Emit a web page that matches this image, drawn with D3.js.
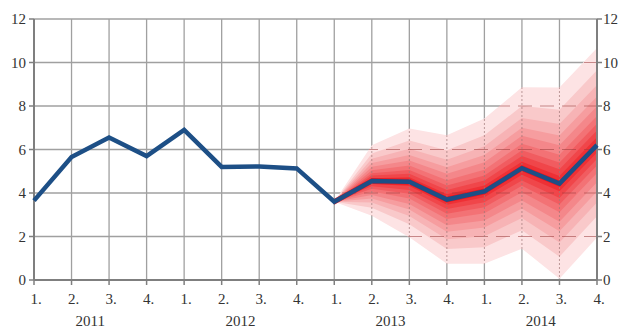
<!DOCTYPE html>
<html>
<head>
<meta charset="utf-8">
<script src="https://cdn.jsdelivr.net/npm/d3@7"></script>
<style>
  body { margin: 0; background: #fff; }
</style>
</head>
<body>
<div id="chart"></div>
<script>

// quarters 2011 Q1 .. 2014 Q4
var quarters = ["1.", "2.", "3.", "4.", "1.", "2.", "3.", "4.", "1.", "2.", "3.", "4.", "1.", "2.", "3.", "4."];
var years = ["2011", "2012", "2013", "2014"];
var yTicks = [0, 2, 4, 6, 8, 10, 12];

// history + central projection
var central = [3.65, 5.65, 6.55, 5.7, 6.9, 5.2, 5.22, 5.13, 3.6, 4.55, 4.52, 3.7, 4.07, 5.14, 4.43, 6.2];

// fan starts at 2013 Q1 (index 8); outermost band first
var fanStart = 8;
var fanUpper = [
  [3.6, 6.2, 6.97, 6.65, 7.42, 8.86, 8.85, 10.67],
  [3.6, 5.82, 6.41, 5.97, 6.65, 8.0, 7.83, 9.64],
  [3.6, 5.57, 6.04, 5.53, 6.15, 7.45, 7.17, 8.97],
  [3.6, 5.38, 5.75, 5.18, 5.75, 7.0, 6.64, 8.44],
  [3.6, 5.21, 5.5, 4.88, 5.41, 6.63, 6.2, 7.99],
  [3.6, 5.05, 5.26, 4.59, 5.07, 6.26, 5.76, 7.54],
  [3.6, 4.91, 5.06, 4.35, 4.81, 5.96, 5.4, 7.18],
  [3.6, 4.8, 4.89, 4.14, 4.57, 5.7, 5.09, 6.87],
  [3.6, 4.68, 4.72, 3.94, 4.34, 5.44, 4.78, 6.56]
];
var fanLower = [
  [3.6, 2.95, 1.97, 0.75, 0.75, 1.44, 0.06, 1.95],
  [3.6, 3.32, 2.56, 1.43, 1.51, 2.29, 1.07, 2.93],
  [3.6, 3.56, 2.94, 1.87, 2.01, 2.85, 1.72, 3.56],
  [3.6, 3.75, 3.24, 2.22, 2.41, 3.29, 2.24, 4.07],
  [3.6, 3.91, 3.5, 2.52, 2.74, 3.66, 2.68, 4.5],
  [3.6, 4.07, 3.75, 2.81, 3.07, 4.03, 3.12, 4.92],
  [3.6, 4.2, 3.96, 3.05, 3.34, 4.33, 3.47, 5.26],
  [3.6, 4.31, 4.14, 3.26, 3.57, 4.58, 3.77, 5.56],
  [3.6, 4.42, 4.32, 3.46, 3.8, 4.84, 4.08, 5.86]
];

var W = 623, H = 329;
var margin = {top: 19, right: 26, bottom: 49, left: 34};
var width = W - margin.left - margin.right;
var height = H - margin.top - margin.bottom;
var serif = "'Liberation Serif', 'Times New Roman', 'DejaVu Serif', serif";

var svg = d3.select("#chart").append("svg")
  .attr("width", W)
  .attr("height", H);

var g = svg.append("g")
  .attr("transform", "translate(" + margin.left + "," + margin.top + ")");

var x = d3.scaleLinear().domain([0, quarters.length - 1]).range([0, width]);
var y = d3.scaleLinear().domain([0, 12]).range([height, 0]);

// grid
var grid = g.append("g").attr("class", "grid");
grid.selectAll("line.h")
  .data(yTicks)
  .enter().append("line")
  .attr("x1", 0).attr("x2", width)
  .attr("y1", function(d) { return y(d); })
  .attr("y2", function(d) { return y(d); })
  .attr("stroke", "#a0a0a0")
  .attr("stroke-width", 1.3);
grid.selectAll("line.v")
  .data(d3.range(1, quarters.length))
  .enter().append("line")
  .attr("x1", function(d) { return x(d); })
  .attr("x2", function(d) { return x(d); })
  .attr("y1", 0).attr("y2", height)
  .attr("stroke", "#a0a0a0")
  .attr("stroke-width", 1.3);

// fan
var color = d3.scaleLinear()
  .domain([0, 1, fanUpper.length - 1])
  .range(["#fde3e4", "#f9c9ca", "#ee3035"])
  .interpolate(d3.interpolateRgb);

var area = d3.area()
  .x(function(d, i) { return x(fanStart + i); })
  .y0(function(d) { return y(d[0]); })
  .y1(function(d) { return y(d[1]); });

fanUpper.forEach(function(up, k) {
  var pts = up.map(function(v, i) { return [fanLower[k][i], v]; });
  g.append("path")
    .datum(pts)
    .attr("d", area)
    .attr("fill", color(k));
});

// centre band
g.append("path")
  .datum(fanUpper[fanUpper.length - 1].map(function(v, i) { return [central[fanStart + i] - 0.14, central[fanStart + i] + 0.14]; }))
  .attr("d", area)
  .attr("fill", "#e8171f");

// faint grid showing through the fan
var outer = fanUpper[0].map(function(v, i) { return [fanLower[0][i], v]; });
g.append("clipPath").attr("id", "fanclip")
  .append("path").datum(outer).attr("d", area);

var over = g.append("g").attr("clip-path", "url(#fanclip)");
over.selectAll("line.h")
  .data(yTicks)
  .enter().append("line")
  .attr("x1", 0).attr("x2", width)
  .attr("y1", function(d) { return y(d); })
  .attr("y2", function(d) { return y(d); })
  .attr("stroke", "#9a3c3c")
  .attr("stroke-opacity", 0.55)
  .attr("stroke-dasharray", "14,8");
over.selectAll("line.v")
  .data(d3.range(fanStart + 1, quarters.length))
  .enter().append("line")
  .attr("x1", function(d) { return x(d); })
  .attr("x2", function(d) { return x(d); })
  .attr("y1", 0).attr("y2", height)
  .attr("stroke", "#a07878")
  .attr("stroke-opacity", 0.7)
  .attr("stroke-dasharray", "2,2");

// axes
var axisCol = "#7f7f7f";
g.append("line")
  .attr("x1", 0).attr("x2", 0).attr("y1", 0).attr("y2", height)
  .attr("stroke", axisCol).attr("stroke-width", 2);
g.append("line")
  .attr("x1", width).attr("x2", width).attr("y1", 0).attr("y2", height)
  .attr("stroke", axisCol).attr("stroke-width", 2);
g.append("line")
  .attr("x1", 0).attr("x2", width).attr("y1", height).attr("y2", height)
  .attr("stroke", axisCol).attr("stroke-width", 2);

// tick marks
g.selectAll("line.lt")
  .data(yTicks)
  .enter().append("line")
  .attr("x1", -5).attr("x2", 0)
  .attr("y1", function(d) { return y(d); })
  .attr("y2", function(d) { return y(d); })
  .attr("stroke", axisCol).attr("stroke-width", 1.5);
g.selectAll("line.rt")
  .data(yTicks)
  .enter().append("line")
  .attr("x1", width).attr("x2", width + 5)
  .attr("y1", function(d) { return y(d); })
  .attr("y2", function(d) { return y(d); })
  .attr("stroke", axisCol).attr("stroke-width", 1.5);
g.selectAll("line.bt")
  .data(quarters)
  .enter().append("line")
  .attr("x1", function(d, i) { return x(i); })
  .attr("x2", function(d, i) { return x(i); })
  .attr("y1", height).attr("y2", height + 5)
  .attr("stroke", axisCol).attr("stroke-width", 1.5);

// labels
function label(sel) {
  return sel.attr("font-family", serif)
    .attr("font-size", "15px")
    .attr("fill", "#333");
}
label(g.selectAll("text.yl")
  .data(yTicks)
  .enter().append("text")
  .attr("x", -8)
  .attr("y", function(d) { return y(d); })
  .attr("dy", "0.35em")
  .attr("text-anchor", "end")
  .text(function(d) { return d; }));
label(g.selectAll("text.yr")
  .data(yTicks)
  .enter().append("text")
  .attr("x", width + 6)
  .attr("y", function(d) { return y(d); })
  .attr("dy", "0.35em")
  .attr("text-anchor", "start")
  .text(function(d) { return d; }));
label(g.selectAll("text.ql")
  .data(quarters)
  .enter().append("text")
  .attr("x", function(d, i) { return x(i) + 2; })
  .attr("y", height + 24)
  .attr("text-anchor", "middle")
  .text(function(d) { return d; }));
label(g.selectAll("text.yrl")
  .data(years)
  .enter().append("text")
  .attr("x", function(d, i) { return x(i * 4 + 1.5); })
  .attr("y", height + 46)
  .attr("text-anchor", "middle")
  .text(function(d) { return d; }));

// central line
g.append("path")
  .datum(central)
  .attr("d", d3.line()
    .x(function(d, i) { return x(i); })
    .y(function(d) { return y(d); }))
  .attr("fill", "none")
  .attr("stroke", "#1d4f86")
  .attr("stroke-width", 4.5)
  .attr("stroke-linejoin", "miter");

</script>
</body>
</html>
